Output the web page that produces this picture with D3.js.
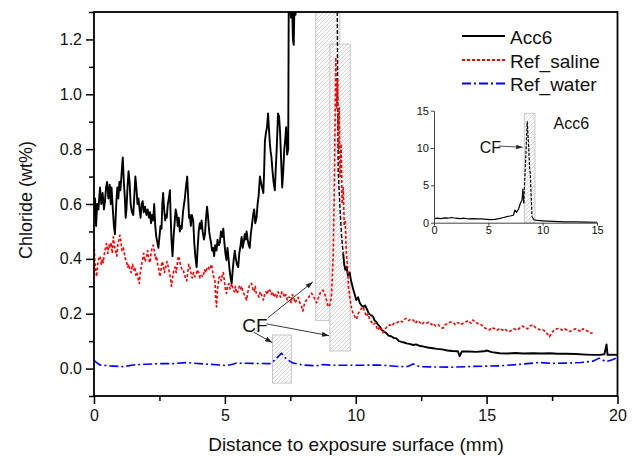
<!DOCTYPE html>
<html><head><meta charset="utf-8">
<script src="https://cdn.jsdelivr.net/npm/d3@7"></script>
<style>body{margin:0;background:#fff}text{font-family:"Liberation Sans",Arial,sans-serif;fill:#111}</style>
</head><body><svg id="c" width="633" height="456"></svg>
<script>
// ---------------- DATA ----------------
// Acc6 (main panel): solid part before the CF region
const acc6Head = [[0,0.55],[0.04,0.62],[0.08,0.52],[0.12,0.60],[0.17,0.58],[0.23,0.66],[0.28,0.60],[0.33,0.64],[0.38,0.58],[0.42,0.61],[0.46,0.66],[0.50,0.68],[0.55,0.62],[0.60,0.67],[0.64,0.60],[0.67,0.66],[0.72,0.58],[0.76,0.52],[0.80,0.49],[0.85,0.60],[0.89,0.66],[0.93,0.62],[0.97,0.68],[1.01,0.65],[1.06,0.72],[1.10,0.77],[1.14,0.68],[1.18,0.62],[1.21,0.55],[1.24,0.58],[1.28,0.66],[1.32,0.72],[1.36,0.68],[1.40,0.60],[1.45,0.57],[1.50,0.56],[1.54,0.63],[1.58,0.70],[1.62,0.66],[1.66,0.60],[1.70,0.62],[1.74,0.58],[1.78,0.55],[1.82,0.60],[1.86,0.61],[1.90,0.57],[1.95,0.59],[2.00,0.56],[2.05,0.58],[2.10,0.55],[2.14,0.57],[2.18,0.53],[2.22,0.56],[2.26,0.54],[2.30,0.60],[2.34,0.52],[2.38,0.48],[2.42,0.46],[2.46,0.44],[2.50,0.48],[2.54,0.52],[2.58,0.51],[2.61,0.60],[2.64,0.64],[2.68,0.58],[2.72,0.54],[2.75,0.56],[2.78,0.55],[2.82,0.60],[2.86,0.62],[2.90,0.65],[2.93,0.55],[2.96,0.47],[3.00,0.41],[3.04,0.48],[3.08,0.53],[3.12,0.58],[3.16,0.56],[3.20,0.52],[3.24,0.55],[3.28,0.50],[3.32,0.52],[3.35,0.51],[3.40,0.57],[3.44,0.60],[3.47,0.62],[3.51,0.66],[3.56,0.70],[3.60,0.62],[3.63,0.55],[3.66,0.56],[3.70,0.52],[3.74,0.56],[3.79,0.54],[3.83,0.46],[3.87,0.41],[3.92,0.37],[3.96,0.44],[4.00,0.50],[4.04,0.53],[4.08,0.51],[4.11,0.54],[4.15,0.50],[4.20,0.47],[4.24,0.49],[4.28,0.55],[4.32,0.59],[4.36,0.55],[4.40,0.50],[4.43,0.48],[4.47,0.46],[4.51,0.43],[4.55,0.44],[4.59,0.41],[4.63,0.45],[4.68,0.43],[4.72,0.47],[4.77,0.45],[4.81,0.46],[4.85,0.50],[4.90,0.48],[4.94,0.51],[4.98,0.46],[5.02,0.42],[5.06,0.395],[5.10,0.44],[5.14,0.40],[5.18,0.36],[5.22,0.33],[5.26,0.31],[5.30,0.36],[5.34,0.40],[5.38,0.43],[5.42,0.40],[5.46,0.38],[5.51,0.37],[5.55,0.42],[5.60,0.45],[5.64,0.48],[5.68,0.44],[5.72,0.46],[5.76,0.49],[5.80,0.47],[5.83,0.50],[5.87,0.47],[5.91,0.45],[5.95,0.44],[5.99,0.49],[6.03,0.52],[6.08,0.56],[6.12,0.58],[6.16,0.53],[6.21,0.55],[6.25,0.60],[6.29,0.63],[6.34,0.70],[6.38,0.68],[6.42,0.66],[6.47,0.64],[6.50,0.72],[6.53,0.83],[6.57,0.86],[6.61,0.88],[6.65,0.93],[6.68,0.88],[6.72,0.82],[6.75,0.79],[6.78,0.77],[6.82,0.72],[6.86,0.68],[6.91,0.65],[6.94,0.72],[6.98,0.80],[7.03,0.93],[7.07,0.92],[7.11,0.86],[7.15,0.76],[7.19,0.66],[7.23,0.72],[7.27,0.80],[7.31,0.84],[7.34,0.88],[7.38,0.78],[7.42,0.80],[7.44,1.35],[7.48,1.42],[7.52,1.28],[7.56,1.36],[7.60,1.20],[7.63,1.18],[7.66,1.34],[7.70,1.29],[7.74,1.45],[7.82,1.9],[7.90,2.6],[8.16,4.5],[8.30,2.6]];
// Acc6 (main panel): dashed part inside the CF region
const acc6Peak = [[8.30,2.6],[8.55,8.0],[8.80,13.5],[9.00,9.0],[9.10,6.5],[9.20,4.0],[9.28,1.6],[9.31,1.0],[9.33,0.72],[9.40,0.58],[9.46,0.48],[9.52,0.42]];
// Acc6 (main panel): solid tail
const acc6Tail = [[9.52,0.42],[9.56,0.38],[9.60,0.36],[9.65,0.37],[9.70,0.34],[9.77,0.35],[9.82,0.32],[9.90,0.29],[9.96,0.27],[10.02,0.25],[10.09,0.26],[10.15,0.24],[10.22,0.23],[10.30,0.225],[10.36,0.23],[10.41,0.22],[10.50,0.20],[10.58,0.195],[10.66,0.19],[10.72,0.175],[10.79,0.17],[10.85,0.16],[10.92,0.153],[11.00,0.14],[11.08,0.135],[11.17,0.129],[11.25,0.12],[11.35,0.118],[11.45,0.112],[11.55,0.11],[11.65,0.10],[11.75,0.097],[11.85,0.095],[11.94,0.092],[12.05,0.09],[12.20,0.086],[12.30,0.088],[12.44,0.083],[12.60,0.080],[12.75,0.077],[12.95,0.074],[13.10,0.072],[13.30,0.070],[13.50,0.066],[13.70,0.064],[13.90,0.063],[13.97,0.045],[14.05,0.062],[14.30,0.062],[14.60,0.061],[14.90,0.063],[15.00,0.066],[15.20,0.060],[15.50,0.056],[15.80,0.055],[16.10,0.057],[16.40,0.055],[16.77,0.056],[17.10,0.055],[17.40,0.056],[17.70,0.054],[18.04,0.054],[18.40,0.053],[18.80,0.051],[19.10,0.050],[19.31,0.050],[19.50,0.052],[19.58,0.088],[19.62,0.050],[19.80,0.051],[20.00,0.050]];
// Ref_saline
const refSaline = [[0.00,0.457],[0.03,0.40],[0.06,0.36],[0.10,0.335],[0.14,0.38],[0.18,0.40],[0.23,0.41],[0.28,0.38],[0.32,0.40],[0.35,0.386],[0.40,0.42],[0.44,0.44],[0.48,0.456],[0.53,0.42],[0.57,0.45],[0.61,0.44],[0.65,0.46],[0.70,0.42],[0.74,0.48],[0.78,0.45],[0.82,0.43],[0.87,0.41],[0.91,0.45],[0.95,0.47],[0.99,0.486],[1.03,0.46],[1.07,0.43],[1.12,0.44],[1.16,0.42],[1.20,0.40],[1.25,0.386],[1.29,0.37],[1.33,0.38],[1.37,0.36],[1.42,0.35],[1.47,0.38],[1.52,0.36],[1.56,0.37],[1.60,0.34],[1.64,0.35],[1.68,0.33],[1.73,0.31],[1.77,0.35],[1.82,0.38],[1.86,0.40],[1.90,0.42],[1.95,0.39],[2.01,0.41],[2.05,0.43],[2.09,0.40],[2.14,0.386],[2.18,0.42],[2.22,0.44],[2.26,0.45],[2.30,0.43],[2.35,0.40],[2.39,0.41],[2.43,0.38],[2.48,0.36],[2.52,0.335],[2.56,0.36],[2.60,0.39],[2.64,0.38],[2.69,0.35],[2.74,0.37],[2.79,0.39],[2.84,0.37],[2.88,0.35],[2.92,0.33],[2.96,0.30],[3.00,0.33],[3.05,0.36],[3.10,0.37],[3.14,0.35],[3.18,0.38],[3.22,0.41],[3.26,0.40],[3.30,0.38],[3.36,0.36],[3.41,0.36],[3.46,0.34],[3.50,0.33],[3.54,0.32],[3.58,0.35],[3.62,0.38],[3.66,0.37],[3.70,0.35],[3.75,0.33],[3.80,0.35],[3.85,0.335],[3.90,0.34],[3.95,0.36],[4.00,0.35],[4.05,0.33],[4.10,0.34],[4.17,0.335],[4.22,0.36],[4.28,0.35],[4.32,0.37],[4.36,0.37],[4.42,0.36],[4.49,0.38],[4.54,0.35],[4.58,0.33],[4.62,0.32],[4.65,0.26],[4.68,0.225],[4.72,0.29],[4.77,0.33],[4.81,0.335],[4.86,0.32],[4.90,0.34],[4.94,0.35],[4.98,0.32],[5.02,0.29],[5.06,0.274],[5.10,0.30],[5.15,0.31],[5.20,0.29],[5.26,0.31],[5.31,0.29],[5.36,0.28],[5.40,0.30],[5.45,0.274],[5.50,0.28],[5.55,0.30],[5.60,0.29],[5.64,0.30],[5.69,0.28],[5.74,0.27],[5.78,0.26],[5.83,0.25],[5.88,0.28],[5.93,0.30],[5.97,0.31],[6.02,0.31],[6.07,0.29],[6.12,0.28],[6.16,0.30],[6.20,0.274],[6.25,0.27],[6.30,0.26],[6.35,0.28],[6.40,0.27],[6.47,0.25],[6.52,0.27],[6.57,0.28],[6.62,0.27],[6.67,0.29],[6.72,0.286],[6.77,0.27],[6.82,0.28],[6.88,0.26],[6.93,0.27],[6.98,0.26],[7.03,0.28],[7.08,0.27],[7.13,0.26],[7.18,0.28],[7.23,0.274],[7.28,0.26],[7.33,0.27],[7.38,0.25],[7.42,0.26],[7.48,0.26],[7.53,0.24],[7.58,0.27],[7.63,0.26],[7.68,0.24],[7.74,0.25],[7.80,0.26],[7.86,0.24],[7.92,0.23],[7.98,0.21],[8.05,0.24],[8.12,0.25],[8.20,0.26],[8.31,0.275],[8.40,0.26],[8.50,0.24],[8.58,0.26],[8.66,0.28],[8.75,0.286],[8.82,0.27],[8.88,0.25],[8.94,0.225],[9.00,0.23],[9.07,0.26],[9.10,0.32],[9.14,0.42],[9.18,0.65],[9.21,0.90],[9.24,1.135],[9.27,0.95],[9.30,1.05],[9.34,0.80],[9.37,0.95],[9.40,0.70],[9.44,0.82],[9.48,0.60],[9.52,0.66],[9.56,0.52],[9.60,0.54],[9.64,0.42],[9.68,0.38],[9.72,0.30],[9.77,0.26],[9.84,0.22],[9.90,0.20],[9.96,0.19],[10.03,0.18],[10.09,0.20],[10.15,0.21],[10.22,0.22],[10.28,0.225],[10.34,0.21],[10.40,0.19],[10.47,0.20],[10.53,0.18],[10.60,0.17],[10.66,0.16],[10.73,0.165],[10.80,0.15],[10.85,0.14],[10.92,0.153],[10.98,0.14],[11.04,0.13],[11.10,0.14],[11.17,0.15],[11.23,0.153],[11.30,0.16],[11.38,0.155],[11.46,0.165],[11.55,0.165],[11.62,0.17],[11.70,0.175],[11.78,0.17],[11.86,0.18],[11.94,0.183],[12.02,0.175],[12.10,0.18],[12.20,0.177],[12.28,0.165],[12.36,0.175],[12.44,0.17],[12.52,0.16],[12.60,0.168],[12.70,0.165],[12.80,0.17],[12.90,0.16],[12.95,0.165],[13.05,0.155],[13.15,0.16],[13.25,0.15],[13.33,0.147],[13.42,0.16],[13.52,0.165],[13.62,0.17],[13.71,0.17],[13.80,0.16],[13.90,0.168],[14.00,0.16],[14.10,0.165],[14.20,0.17],[14.30,0.175],[14.40,0.165],[14.48,0.177],[14.55,0.17],[14.65,0.165],[14.72,0.16],[14.80,0.16],[14.90,0.15],[15.00,0.145],[15.11,0.141],[15.20,0.15],[15.30,0.145],[15.40,0.14],[15.50,0.147],[15.60,0.14],[15.70,0.145],[15.80,0.135],[15.88,0.135],[15.96,0.14],[16.05,0.145],[16.15,0.14],[16.26,0.147],[16.36,0.155],[16.46,0.15],[16.56,0.145],[16.66,0.155],[16.77,0.16],[16.86,0.15],[16.96,0.145],[17.06,0.14],[17.15,0.141],[17.25,0.135],[17.33,0.125],[17.40,0.116],[17.48,0.13],[17.58,0.14],[17.68,0.145],[17.79,0.147],[17.88,0.14],[17.98,0.145],[18.08,0.14],[18.18,0.135],[18.30,0.141],[18.40,0.145],[18.50,0.14],[18.60,0.135],[18.68,0.145],[18.78,0.14],[18.88,0.135],[18.96,0.13],[19.05,0.129]];
// Ref_water
const refWater = [[0,0.03],[0.1,0.022],[0.23,0.013],[0.6,0.01],[1.12,0.007],[1.5,0.013],[2.0,0.016],[2.52,0.018],[3.0,0.018],[3.54,0.022],[3.78,0.02],[4.3,0.016],[4.7,0.014],[5.06,0.011],[5.3,0.016],[5.45,0.02],[6.0,0.019],[6.72,0.018],[6.9,0.03],[7.16,0.056],[7.35,0.035],[7.6,0.02],[7.99,0.013],[8.5,0.01],[8.74,0.015],[9.12,0.012],[10.0,0.012],[10.9,0.013],[11.68,0.007],[12.0,0.008],[12.19,0.017],[12.44,0.007],[13.0,0.006],[13.71,0.005],[14.5,0.008],[15.5,0.01],[16.2,0.015],[16.77,0.02],[17.0,0.022],[17.5,0.019],[18.04,0.02],[18.6,0.022],[19.06,0.027],[19.3,0.038],[19.56,0.025],[19.8,0.032],[19.95,0.038],[20.0,0.036]];
// Inset Acc6 (0-15 mm, 0-15 wt%)
const insetHead = [[0,0.55],[0.3,0.6],[0.6,0.55],[1.0,0.65],[1.3,0.6],[1.6,0.7],[2.0,0.6],[2.4,0.55],[2.8,0.6],[3.2,0.5],[3.6,0.55],[4.0,0.5],[4.4,0.5],[4.8,0.45],[5.2,0.4],[5.6,0.45],[6.0,0.55],[6.4,0.7],[6.8,0.85],[7.0,0.9],[7.3,1.0],[7.45,1.7],[7.6,1.4],[7.8,1.9],[7.95,2.6],[8.1,3.0],[8.18,4.5],[8.26,2.6]];
const insetPeak = [[8.26,2.6],[8.42,8.0],[8.58,13.5],[8.72,10.0],[8.80,7.2],[8.86,6.6],[8.94,3.5],[9.02,0.8]];
const insetTail = [[9.02,0.8],[9.2,0.4],[9.5,0.3],[10,0.25],[11,0.18],[12,0.12],[13,0.1],[14,0.08],[15,0.06]];
// CF regions (x range mm, y range wt%)
const cfBoxes = [[8.47,9.39,0.175,1.40],[9.01,9.79,0.064,1.183],[6.82,7.54,-0.053,0.1225]];
const insetBox = [8.31,9.29,0,14.65];
// Axis ticks
const xMajor = [0,5,10,15,20], xMinor = [2.5,7.5,12.5,17.5];
const yMajor = [0,0.2,0.4,0.6,0.8,1.0,1.2], yMinor = [-0.1,0.1,0.3,0.5,0.7,0.9,1.1,1.3];
const insetTicks = [0,5,10,15];
// Legend
const legendNames = ["Acc6","Ref_saline","Ref_water"];
const legendColors = ["#000","#ff0000","#0000ff"];
const legendDash = [null,"3,2","9,3,2,3"];
// Annotations (data units)
const cfLabel = [6.15,0.133];
const cfArrows = [[6.64,0.185,8.36,0.316],[6.59,0.163,8.98,0.12],[6.11,0.132,6.81,0.095]];

// ---------------- CHART ----------------
const svg = d3.select("#c");
const x = d3.scaleLinear().domain([0,20]).range([94,617.5]);
const y = d3.scaleLinear().domain([-0.1,1.3]).range([396,12]);
const defs = svg.append("defs");
defs.append("clipPath").attr("id","clip").append("rect")
  .attr("x",94).attr("y",12).attr("width",523.5).attr("height",384);
const pat = defs.append("pattern").attr("id","hatch").attr("patternUnits","userSpaceOnUse")
  .attr("width",4).attr("height",4);
pat.append("rect").attr("width",4).attr("height",4).attr("fill","#fbfbfb");
pat.append("path").attr("d","M-1,1 l2,-2 M0,4 l4,-4 M3,5 l2,-2").attr("stroke","#cfcfcf").attr("stroke-width",0.8);
const mk = defs.append("marker").attr("id","arr").attr("viewBox","0 0 10 10").attr("refX",10).attr("refY",5)
  .attr("markerWidth",8).attr("markerHeight",8).attr("orient","auto");
mk.append("path").attr("d","M0,1.5 L10,5 L0,8.5 z").attr("fill","#222");

const plot = svg.append("g").attr("clip-path","url(#clip)");
plot.selectAll("rect.cf").data(cfBoxes).join("rect").attr("class","cf")
  .attr("x",d=>x(d[0])).attr("width",d=>x(d[1])-x(d[0]))
  .attr("y",d=>y(d[3])).attr("height",d=>y(d[2])-y(d[3]))
  .attr("fill","url(#hatch)").attr("stroke","#c8c8c8").attr("stroke-width",1);

const line = d3.line().x(d=>x(d[0])).y(d=>y(d[1]));
function draw(g, data, ln, color, dash, w){
  g.append("path").datum(data).attr("d",ln).attr("fill","none").attr("stroke",color)
   .attr("stroke-width",w).attr("stroke-dasharray",dash).attr("stroke-linejoin","round");
}
draw(plot, acc6Head, line, "#000", null, 1.9);
draw(plot, acc6Peak, line, "#000", "4,2", 1.4);
draw(plot, acc6Tail, line, "#000", null, 1.9);
draw(plot, refSaline, line, "#ff0000", "3,2", 1.6);
draw(plot, refWater, line, "#0000ff", "9,3,2,3", 1.6);

// axes
const fAx = g=>{g.select(".domain").remove(); g.selectAll("line").attr("stroke","#000").attr("stroke-width",1.5);
  g.selectAll("text").style("font-family",'"Liberation Sans",Arial,sans-serif').attr("fill","#111");};
svg.append("g").attr("transform","translate(0,396)")
  .call(d3.axisBottom(x).tickValues(xMajor).tickFormat(d3.format("d")).tickSize(8).tickPadding(6))
  .call(fAx).selectAll("text").style("font-size","16px");
svg.append("g").attr("transform","translate(0,396)")
  .call(d3.axisBottom(x).tickValues(xMinor).tickFormat("").tickSize(5)).call(fAx);
svg.append("g").attr("transform","translate(94,0)")
  .call(d3.axisLeft(y).tickValues(yMajor).tickFormat(d3.format(".1f")).tickSize(8).tickPadding(4))
  .call(fAx).selectAll("text").style("font-size","16px");
svg.append("g").attr("transform","translate(94,0)")
  .call(d3.axisLeft(y).tickValues(yMinor).tickFormat("").tickSize(5)).call(fAx);
svg.append("rect").attr("x",94).attr("y",12).attr("width",523.5).attr("height",384)
  .attr("fill","none").attr("stroke","#000").attr("stroke-width",1.8);

svg.append("text").attr("x",356).attr("y",451).attr("text-anchor","middle")
  .style("font-size","19px").text("Distance to exposure surface (mm)");
svg.append("text").attr("transform","translate(32,200) rotate(-90)").attr("text-anchor","middle")
  .style("font-size","18px").text("Chloride (wt%)");

// CF annotation
svg.append("text").attr("x",x(cfLabel[0])).attr("y",y(cfLabel[1])).attr("text-anchor","middle")
  .style("font-size","19px").text("CF");
svg.selectAll("line.arw").data(cfArrows).join("line").attr("class","arw")
  .attr("x1",d=>x(d[0])).attr("y1",d=>y(d[1])).attr("x2",d=>x(d[2])).attr("y2",d=>y(d[3]))
  .attr("stroke","#222").attr("stroke-width",0.9).attr("marker-end","url(#arr)");

// legend
const lg = svg.append("g");
const lgY = [36,60,83.5];
legendNames.forEach((n,i)=>{
  lg.append("line").attr("x1",462).attr("x2",505).attr("y1",lgY[i]).attr("y2",lgY[i])
    .attr("stroke",legendColors[i]).attr("stroke-width",i==0?2:1.8).attr("stroke-dasharray",legendDash[i]);
  lg.append("text").attr("x",510).attr("y",lgY[i]+7.5).style("font-size","19px").text(n);
});

// ---------------- INSET ----------------
const ix = d3.scaleLinear().domain([0,15]).range([434,597]);
const iy = d3.scaleLinear().domain([0,15]).range([222.7,110.7]);
const ins = svg.append("g");
ins.append("rect").attr("x",ix(insetBox[0])).attr("width",ix(insetBox[1])-ix(insetBox[0]))
  .attr("y",iy(insetBox[3])).attr("height",iy(insetBox[2])-iy(insetBox[3]))
  .attr("fill","url(#hatch)").attr("stroke","#c8c8c8").attr("stroke-width",1);
const iline = d3.line().x(d=>ix(d[0])).y(d=>iy(d[1]));
draw(ins, insetHead, iline, "#000", null, 1.2);
draw(ins, insetPeak, iline, "#000", "3,1.5", 1.2);
draw(ins, insetTail, iline, "#000", null, 1.2);
const fIn = g=>{g.select(".domain").attr("stroke","#444").attr("stroke-width",1);
  g.selectAll("line").attr("stroke","#444");
  g.selectAll("text").style("font-size","11px").style("font-family",'"Liberation Sans",Arial,sans-serif').attr("fill","#111");};
ins.append("g").attr("transform","translate(0,222.7)")
  .call(d3.axisBottom(ix).tickValues(insetTicks).tickSize(3).tickSizeOuter(0).tickPadding(1)).call(fIn);
ins.append("g").attr("transform","translate(434,0)")
  .call(d3.axisLeft(iy).tickValues(insetTicks).tickSize(3).tickSizeOuter(0).tickPadding(2)).call(fIn);
ins.append("text").attr("x",ix(11.0)).attr("y",iy(12.6)).style("font-size","16px").text("Acc6");
ins.append("text").attr("x",ix(4.2)).attr("y",iy(9.35)).style("font-size","16px").text("CF");
ins.append("line").attr("x1",ix(5.92)).attr("y1",iy(10.27)).attr("x2",ix(8.16)).attr("y2",iy(10.1))
  .attr("stroke","#222").attr("stroke-width",0.8).attr("marker-end","url(#arr)");
</script></body></html>
